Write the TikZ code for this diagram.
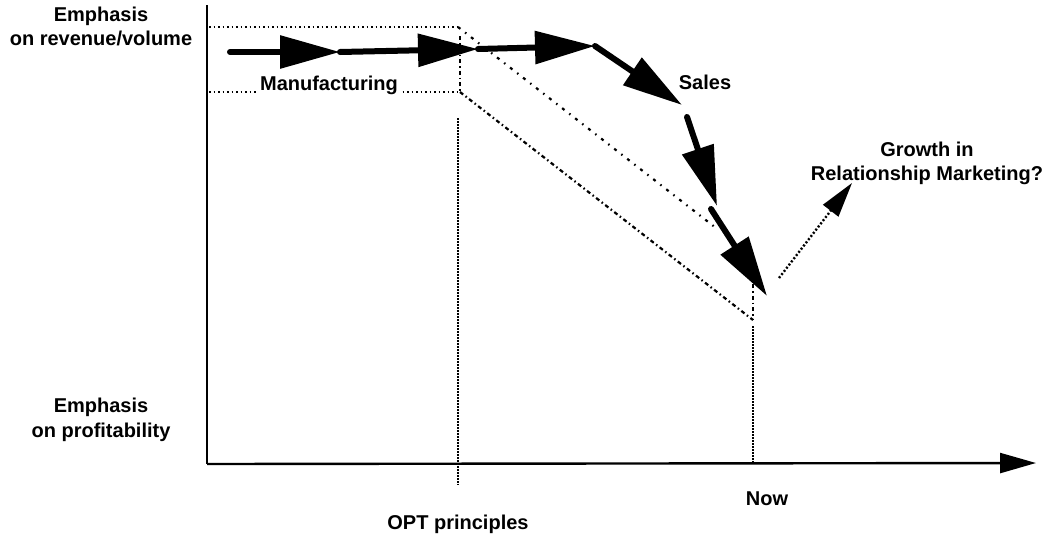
\documentclass[tikz,border=0pt]{standalone}
\usepackage{fontspec}
\setmainfont{Liberation Sans}
\usetikzlibrary{arrows.meta}
\begin{document}
\begin{tikzpicture}[x=1pt,y=-1pt,
  lbl/.style={font=\fontsize{20}{24}\selectfont\bfseries, inner sep=0pt, anchor=base},
  axisline/.style={line width=2.4pt},
  bigarrow/.style={line width=6pt, line cap=round, -{Triangle[length=60pt,width=32pt]}},
  banddot/.style={line width=2.2pt, dash pattern=on 1.5pt off 3pt},
  banddash/.style={line width=2.2pt, dash pattern=on 4pt off 3pt on 1.5pt off 3pt},
  bandsparse/.style={line width=2.2pt, dash pattern=on 3pt off 6pt on 1.5pt off 6pt},
  guide/.style={line width=1.8pt, dash pattern=on 1.5pt off 1.5pt},
  growth/.style={line width=2.4pt, dash pattern=on 2pt off 2pt, -{Triangle[length=35pt,width=19pt]}}
]
\useasboundingbox (0,0) rectangle (1057,533);

% coordinates
\coordinate (ytop) at (207,5);
\coordinate (origin) at (207,464);
\coordinate (xend) at (1036,463);

\coordinate (bUL) at (209,27);
\coordinate (bUR) at (458,27);
\coordinate (bUE) at (716,228);
\coordinate (bLL) at (209,92);
\coordinate (bLR) at (460,92);
\coordinate (bLT) at (460,36);
\coordinate (bRE) at (753,320);
\coordinate (bRT) at (753,284);

\coordinate (optT) at (458,118);
\coordinate (optB) at (458,485);
\coordinate (nowT) at (753,326);
\coordinate (nowB) at (753,463);

\coordinate (p0) at (230,52);
\coordinate (p1) at (340,52);
\coordinate (p2) at (478,49);
\coordinate (p3) at (595,46);
\coordinate (p4) at (682,105);
\coordinate (p5) at (687,117);
\coordinate (p6) at (717,206);
\coordinate (p7) at (711,209);
\coordinate (p8) at (767,296);

\coordinate (g0) at (779,278);
\coordinate (g1) at (852,183);

% band (range)
\draw[banddot] (bUL) -- (bUR);
\draw[bandsparse] (bUR) -- (bUE);
\draw[banddot] (bLL) -- (bLR);
\draw[banddash] (bLT) -- (bLR);
\draw[banddash] (bLR) -- (bRE);
\draw[banddash] (bRT) -- (bRE);

% guides
\draw[guide] (optT) -- (optB);
\draw[guide] (nowT) -- (nowB);

% axes
\draw[axisline] (ytop) -- (origin);
\draw[axisline, -{Triangle[length=36pt,width=20pt]}] (origin) -- (xend);

% path arrows
\draw[bigarrow] (p0) -- (p1);
\draw[bigarrow] (p1) -- (p2);
\draw[bigarrow] (p2) -- (p3);
\draw[bigarrow] (p3) -- (p4);
\draw[bigarrow] (p5) -- (p6);
\draw[bigarrow] (p7) -- (p8);

\draw[growth] (g0) -- (g1);

% labels
\node[lbl] (emA1) at (101,21) {Emphasis};
\node[lbl] (emA2) at (101,45) {on revenue/volume};
\node[lbl] (emB1) at (101,412) {Emphasis};
\node[lbl] (emB2) at (101,437) {on profitability};
\node[lbl, fill=white, inner xsep=2pt] (manu) at (329,90) {Manufacturing};
\node[lbl] (sales) at (705,89) {Sales};
\node[lbl] (gr1) at (927,156) {Growth in};
\node[lbl] (gr2) at (927,180) {Relationship Marketing?};
\node[lbl] (now) at (767,505) {Now};
\node[lbl] (opt) at (458,529) {OPT principles};
\end{tikzpicture}
\end{document}
